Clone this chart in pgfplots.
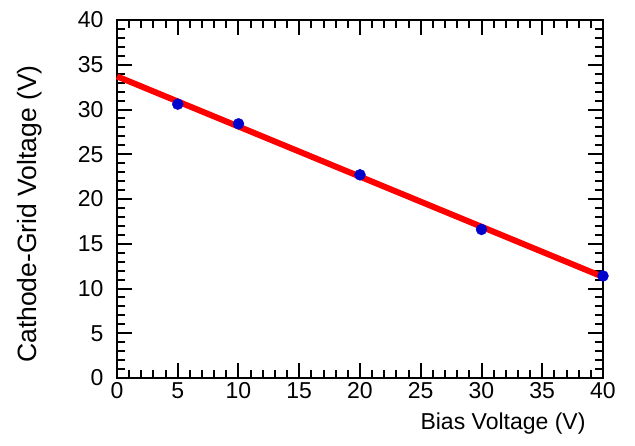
\documentclass[border=0pt]{standalone}
\usepackage{pgfplots}
\pgfplotsset{compat=1.18}
\usepackage{fontspec}
\setmainfont{Liberation Sans}
\definecolor{ptblue}{RGB}{0,0,205}
\begin{document}
\begin{tikzpicture}
\begin{axis}[
  name=ax,
  scale only axis, width=486pt, height=358pt,
  xmin=0, xmax=40, ymin=0, ymax=40,
  xtick={0,5,...,40}, ytick={0,5,...,40},
  minor tick num=4,
  tick align=inside, tick pos=both,
  major tick length=15pt, minor tick length=8pt,
  axis line style={line width=2.4pt},
  every tick/.style={black, line width=2pt},
  tick label style={font=\fontsize{23}{27}\selectfont},
  /pgf/number format/assume math mode=true,
  xticklabel style={yshift=-1pt},
  yticklabel style={xshift=-10pt},
  xlabel={Bias Voltage (V)},
  xlabel style={font=\fontsize{23}{27}\selectfont, at={(rel axis cs:1,0)}, anchor=north east, xshift=-14pt, yshift=-31pt},
  ylabel={Cathode-Grid Voltage (V)},
  ylabel style={font=\fontsize{26.5}{30}\selectfont, at={(rel axis cs:0,0.5)}, anchor=south, yshift=71pt, xshift=-15pt},
  clip=false,
]
\addplot[red, line width=6pt] coordinates {(0,33.7) (40,11.3)};
\addplot[only marks, mark=*, mark size=5.5pt, color=ptblue, mark options={fill=ptblue}]
  coordinates {(5,30.6) (10,28.4) (20,22.7) (30,16.6) (40,11.4)};
\end{axis}
\path (ax.south west) ++(-117pt,-67pt) rectangle ++(635pt,445pt);
\end{tikzpicture}
\end{document}
